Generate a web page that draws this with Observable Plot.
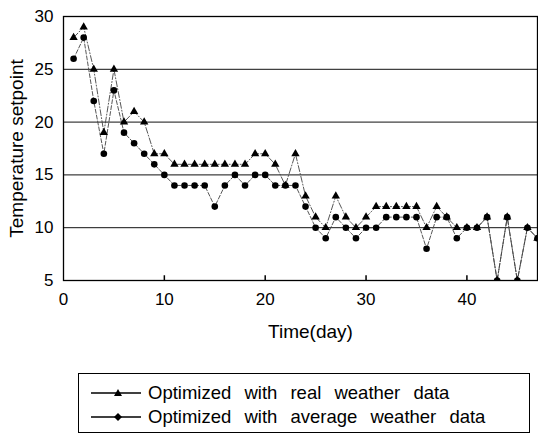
<!DOCTYPE html>
<html>
<head>
<meta charset="utf-8">
<script src="https://cdn.jsdelivr.net/npm/d3@7"></script>
<script src="https://cdn.jsdelivr.net/npm/@observablehq/plot@0.6"></script>
<style>
  body { margin: 0; background: #fff; font-family: "Liberation Sans", Arial, sans-serif; }
  #wrap { position: relative; width: 538px; height: 434px; overflow: hidden; }
  #legend { position: absolute; left: 78px; top: 373px; width: 452px; height: 60px; border: 1px solid #000; box-sizing: border-box; }
  .row { position: absolute; left: 0; height: 24px; display: flex; align-items: center; }
  .row svg { margin-left: 12px; }
  .row span { margin-left: 7px; font-size: 18.5px; word-spacing: 8px; color: #000; white-space: nowrap; }
</style>
</head>
<body>
<div id="wrap">
  <div id="chart"></div>
  <div id="legend">
    <div class="row" style="top:7px"><svg width="50" height="14"><line x1="0" y1="7" x2="50" y2="7" stroke="#000" stroke-width="1.4"/><path d="M27,3 L31,10 L23,10 Z" fill="#000"/></svg><span>Optimized with real weather data</span></div>
    <div class="row" style="top:31px"><svg width="50" height="14"><line x1="0" y1="7" x2="50" y2="7" stroke="#000" stroke-width="1.4"/><path d="M27,3 L31,7 L27,11 L23,7 Z" fill="#000"/></svg><span>Optimized with average weather data</span></div>
  </div>
</div>
<script>
const days = d3.range(1, 48);
const realValues = [28, 29, 25, 19, 25, 20, 21, 20, 17, 17,
  16, 16, 16, 16, 16, 16, 16, 16, 17, 17,
  16, 14, 17, 13, 11, 10, 13, 11, 10, 11,
  12, 12, 12, 12, 12, 10, 12, 11, 10, 10,
  10, 11, 5, 11, 5, 10, 9];
const avgValues = [26, 28, 22, 17, 23, 19, 18, 17, 16, 15,
  14, 14, 14, 14, 12, 14, 15, 14, 15, 15,
  14, 14, 14, 12, 10, 9, 11, 10, 9, 10,
  10, 11, 11, 11, 11, 8, 11, 11, 9, 10,
  10, 11, 5, 11, 5, 10, 9];
const xTicks = [0, 10, 20, 30, 40];
const yTicks = [5, 10, 15, 20, 25, 30];
const gridY = [10, 15, 20, 25];
const xLabel = "Time(day)";
const yLabel = "Temperature setpoint";

const real = days.map((d, i) => ({day: d, value: realValues[i]}));
const avg = days.map((d, i) => ({day: d, value: avgValues[i]}));

const chart = Plot.plot({
  width: 538,
  height: 350,
  marginTop: 16,
  marginBottom: 70,
  marginLeft: 63,
  marginRight: 1,
  style: {fontFamily: "'Liberation Sans', Arial, sans-serif", fontSize: "17px", color: "#000", background: "#fff"},
  x: {domain: [0, 47]},
  y: {domain: [5, 30]},
  marks: [
    Plot.ruleY(gridY, {stroke: "#111", strokeWidth: 1}),
    Plot.ruleX([10, 20, 30, 40], {y1: 5, y2: 5.45, stroke: "#000", strokeWidth: 1.5}),
    Plot.line(avg, {x: "day", y: "value", stroke: "#444", strokeWidth: 0.9, strokeDasharray: "4,2", clip: true}),
    Plot.line(real, {x: "day", y: "value", stroke: "#444", strokeWidth: 0.9, strokeDasharray: "6,2,1,2", clip: true}),
    Plot.dot(real, {x: "day", y: "value", symbol: "triangle", r: 3.1, fill: "#000", clip: true}),
    Plot.dot(avg, {x: "day", y: "value", symbol: "circle", r: 3.3, fill: "#000", clip: true}),
    Plot.frame({stroke: "#000", strokeWidth: 1.3}),
    Plot.axisX(xTicks, {tickSize: 0, tickPadding: 12, label: null, fontSize: 17, fill: "#000"}),
    Plot.axisY(yTicks, {tickSize: 0, tickPadding: 10, label: null, fontSize: 17, fill: "#000"}),
    Plot.text([xLabel], {frameAnchor: "bottom", lineAnchor: "middle", dy: 51, dx: 10, fontSize: 19, fill: "#000"}),
    Plot.text([yLabel], {frameAnchor: "left", rotate: -90, textAnchor: "middle", lineAnchor: "middle", dx: -47, fontSize: 19, fill: "#000"})
  ]
});
document.getElementById("chart").appendChild(chart);
</script>
</body>
</html>
